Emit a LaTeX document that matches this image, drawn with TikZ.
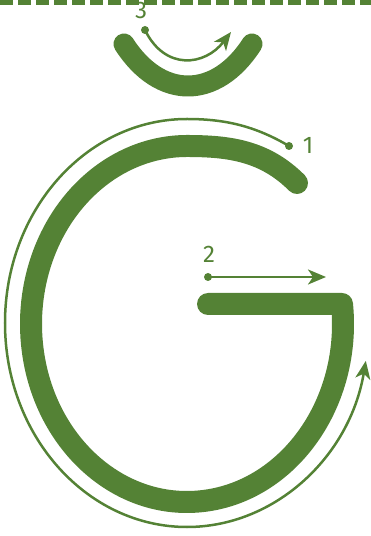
\documentclass[tikz,border=0pt]{standalone}
\usepackage{fontspec}
\setmainfont{Fira Sans}
\usetikzlibrary{arrows.meta}
\definecolor{gr}{RGB}{84,130,53}
\begin{document}
\begin{tikzpicture}[x=1pt,y=1pt,
  stroke/.style={draw=gr, line width=22pt, line cap=round, line join=round},
  guide/.style={draw=gr, line width=2.5pt, -{Stealth[length=18pt,width=15pt,inset=5pt]}},
  dotn/.style={circle, fill=gr, inner sep=0pt, minimum size=8pt},
  lbl/.style={text=gr, font=\fontsize{24}{24}\selectfont, inner sep=0pt}]
\useasboundingbox (0,0) rectangle (371,536);
% letter G
\draw[stroke] (208,232) -- (342,232)
  arc[start angle=6.45, end angle=-270, x radius=156, y radius=178]
  .. controls (230,390) and (265,385) .. (297,353);
% breve
\draw[stroke, line width=21pt] (124,492) .. controls (160,436) and (216,436) .. (252,492);
% guide 1
\node[dotn] (d1) at (289,390) {};
\draw[guide] (d1.center) .. controls (255,410) and (225,417) .. (187,417)
  arc[start angle=90, end angle=349.3, x radius=182, y radius=204];
\node[lbl] (l1) at (308,391) {1};
% guide 2
\node[dotn] (d2) at (208,259) {};
\coordinate (e2) at (326,259);
\draw[guide] (d2.center) -- (e2);
\node[lbl] (l2) at (209,282) {2};
% guide 3
\node[dotn] (d3) at (145,506) {};
\coordinate (e3) at (231,504);
\draw[guide] (d3.center) .. controls (165,465) and (205,470) .. (e3);
\node[lbl] (l3) at (141,526) {3};
% top dashed line
\coordinate (tl) at (0,533.5);
\coordinate (tr) at (371,533.5);
\draw[gr, line width=5pt, dash pattern=on 13pt off 5pt] (tl) -- (tr);
\end{tikzpicture}
\end{document}
